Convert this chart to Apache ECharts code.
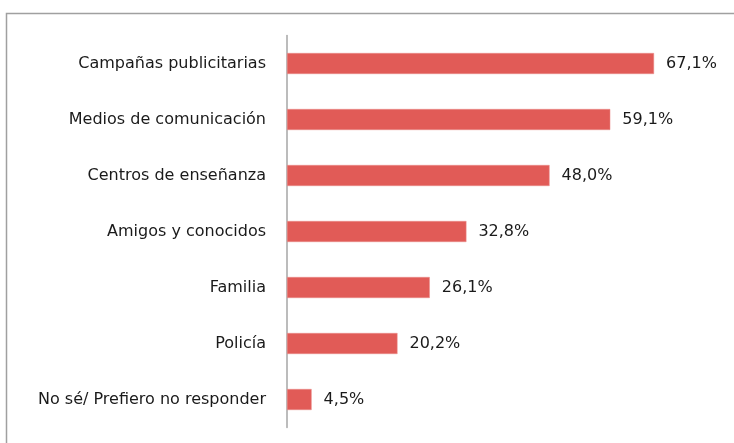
<!DOCTYPE html>
<html>
<head>
<meta charset="utf-8">
<script src="https://cdn.jsdelivr.net/npm/echarts@6/dist/echarts.min.js"></script>
<style>
  html, body { margin: 0; padding: 0; background: #fff; }
  #main { width: 734px; height: 443px; }
</style>
</head>
<body>
<div id="main"></div>
<script>
  var categorias = ['Campañas publicitarias', 'Medios de comunicación', 'Centros de enseñanza',
    'Amigos y conocidos', 'Familia', 'Policía', 'No sé/ Prefiero no responder'];
  var valores = [67.1, 59.1, 48.0, 32.8, 26.1, 20.2, 4.5];

  var myChart = echarts.init(document.getElementById('main'));
  myChart.setOption({
    animation: false,
    textStyle: { fontFamily: 'DejaVu Sans' },
    graphic: [{
      type: 'rect',
      shape: { x: 6.5, y: 13.5, width: 800, height: 500 },
      style: { fill: 'none', stroke: '#a0a0a0', lineWidth: 1.5 },
      silent: true
    }],
    grid: { left: 287, top: 35.5, height: 392, width: 437.6 },
    xAxis: {
      type: 'value',
      min: 0,
      max: 80,
      show: false
    },
    yAxis: {
      type: 'category',
      inverse: true,
      data: categorias,
      axisLine: { show: true, lineStyle: { color: '#a6a6a6', width: 1.5 } },
      axisTick: { show: false },
      axisLabel: { color: '#1a1a1a', fontSize: 16, margin: 21 }
    },
    series: [{
      type: 'bar',
      data: valores,
      barWidth: 21,
      itemStyle: { color: '#e15b57', borderColor: '#eb8f8c', borderWidth: 0.5 },
      label: {
        show: true,
        position: 'right',
        distance: 12,
        color: '#1a1a1a',
        fontSize: 16,
        formatter: function (p) { return p.value.toFixed(1).replace('.', ',') + '%'; }
      }
    }]
  });
</script>
</body>
</html>
